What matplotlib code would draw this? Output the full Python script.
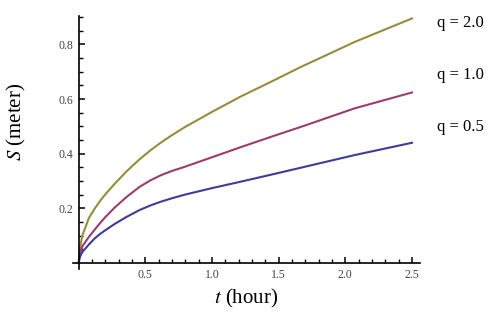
import matplotlib
matplotlib.use('Agg')
import matplotlib.pyplot as plt

plt.rcParams['mathtext.fontset'] = 'stix'

# values
t = [0, 0.0075, 0.027, 0.077, 0.12, 0.165, 0.2, 0.27, 0.36, 0.4575, 0.54, 0.62, 0.7, 0.795,
     1.0, 1.21, 1.45, 1.66, 2.07, 2.5]
s_q20 = [0, 0.05, 0.10, 0.165, 0.199, 0.230, 0.2515, 0.29, 0.336, 0.38, 0.413, 0.442, 0.468, 0.497,
         0.553, 0.608, 0.665, 0.716, 0.809, 0.895]
s_q10 = [0, 0.03, 0.061, 0.096, 0.122, 0.149, 0.168, 0.203, 0.242, 0.279, 0.303, 0.322, 0.337, 0.352,
         0.387, 0.423, 0.463, 0.497, 0.566, 0.624]
s_q05 = [0, 0.02, 0.04, 0.068, 0.09, 0.108, 0.12, 0.143, 0.169, 0.194, 0.211, 0.225, 0.237, 0.25,
         0.274, 0.297, 0.324, 0.348, 0.395, 0.44]
labels = ['q = 2.0', 'q = 1.0', 'q = 0.5']
colors = [(0.6, 0.547, 0.24), (0.6, 0.24, 0.442), (0.24, 0.24, 0.6)]

xticks = [0.5, 1.0, 1.5, 2.0, 2.5]
yticks = [0.2, 0.4, 0.6, 0.8]

serif = ['Liberation Serif', 'DejaVu Serif']

fig = plt.figure(figsize=(5, 3.16), dpi=100)
ax = fig.add_axes([0.1454, 0.1487, 0.6946, 0.8016])

for s, c in zip([s_q20, s_q10, s_q05], colors):
    ax.plot(t, s, color=c, lw=1.5)

ax.set_xlim(-0.045, 2.56)
ax.set_ylim(-0.022, 0.905)

for side in ['top', 'right']:
    ax.spines[side].set_visible(False)
ax.spines['left'].set_position(('data', 0))
ax.spines['bottom'].set_position(('data', 0))
ax.spines['left'].set_linewidth(1.2)
ax.spines['bottom'].set_linewidth(1.2)

ax.set_xticks(xticks)
ax.set_xticklabels(['%.1f' % v for v in xticks])
ax.set_xticks([v / 10 for v in range(1, 26) if v % 5 != 0], minor=True)
ax.set_yticks(yticks)
ax.set_yticklabels(['%.1f' % v for v in yticks])
ax.set_yticks([v / 20 for v in range(1, 19) if v % 4 != 0], minor=True)

ax.tick_params(which='major', direction='in', length=4.5, width=1.1, pad=4,
               labelsize=8.5, labelcolor='#444444')
ax.tick_params(which='minor', direction='in', length=2.6, width=1.0)
for lab in ax.get_xticklabels() + ax.get_yticklabels():
    lab.set_family(serif)

ax.set_xlabel('$t$ (hour)', fontsize=15, family=serif)
ax.set_ylabel('$S$ (meter)', fontsize=15, family=serif)
ax.xaxis.set_label_coords(0.5, -0.07)
ax.yaxis.set_label_coords(-0.13, 0.58)

for lab, yp in zip(labels, [23, 75, 127]):
    fig.text(437 / 500, 1 - yp / 316, lab, fontsize=12, family=serif,
             va='center', ha='left')

plt.savefig('out.png', dpi=100)
